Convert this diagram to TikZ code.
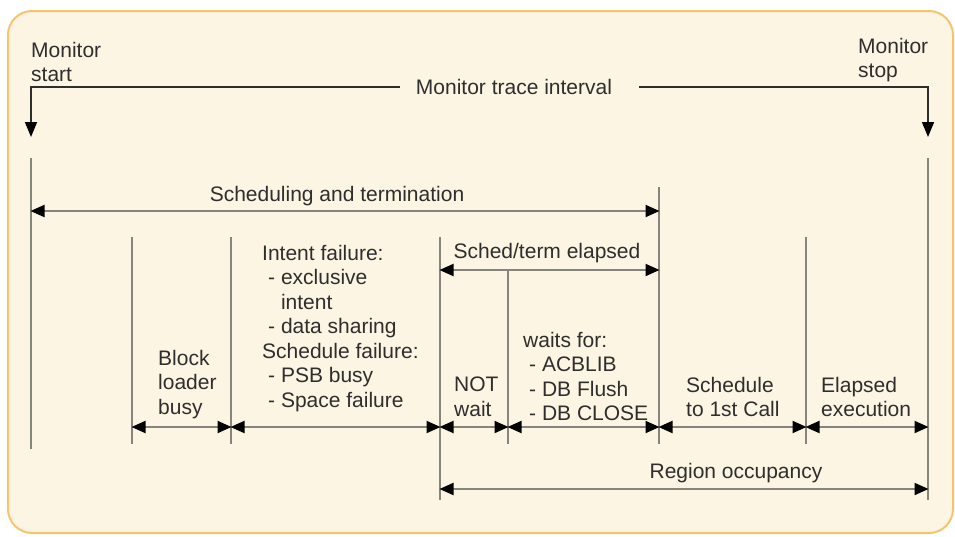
\documentclass[tikz,border=0pt]{standalone}
\usepackage{fontspec}
\setmainfont{Liberation Sans}
\usetikzlibrary{arrows.meta}
\definecolor{framefill}{HTML}{FDF5E3}
\definecolor{frameline}{HTML}{F6C46E}
\definecolor{markgray}{HTML}{85857E}
\definecolor{inkgray}{HTML}{2E2E2E}

\begin{document}
\begin{tikzpicture}[x=1pt, y=-1pt,
    timeline/.style={draw=markgray, line width=2pt},
    span/.style={{Triangle[length=14pt,width=12pt,color=black]}-{Triangle[length=14pt,width=12pt,color=black]},
      draw=markgray, line width=2pt, shorten <=-0.5pt, shorten >=-0.5pt},
    drop/.style={-{Triangle[length=15pt,width=12pt,color=black]}, draw=inkgray, line width=1.6pt},
    lbl/.style={inner sep=0pt, font=\fontsize{21}{24.5}\selectfont, align=left, anchor=north west, text=inkgray},
    title/.style={inner sep=0pt, font=\fontsize{21}{24.5}\selectfont, anchor=base, text=inkgray}
]
  % Frame
  \useasboundingbox (0,0) rectangle (955,536);
  \draw[fill=framefill, draw=frameline, line width=2pt, rounded corners=24pt] (8,11) rectangle (953,533);

  % Monitor trace interval
  \node[lbl] (mstart) at (31,42) {Monitor\\start};
  \node[lbl] (mstop) at (858,38) {Monitor\\stop};
  \node[title] (trace) at (514,94) {Monitor trace interval};
  \coordinate (tl) at (400,87);
  \coordinate (tr) at (639,87);
  \coordinate (sdown) at (31,137);
  \coordinate (edown) at (928,137);
  \draw[drop] (tl) -| (sdown);
  \draw[drop] (tr) -| (edown);

  % Time marks
  \coordinate (t0) at (31,158);   \coordinate (b0) at (31,449);
  \coordinate (t1) at (132,237);  \coordinate (b1) at (132,444);
  \coordinate (t2) at (231,237);  \coordinate (b2) at (231,444);
  \coordinate (t3) at (440,237);  \coordinate (b3) at (440,500);
  \coordinate (t4) at (508,270);  \coordinate (b4) at (508,444);
  \coordinate (t5) at (659,187);  \coordinate (b5) at (659,444);
  \coordinate (t6) at (806,237);  \coordinate (b6) at (806,444);
  \coordinate (t7) at (928,158);  \coordinate (b7) at (928,500);
  \foreach \i in {0,...,7}
    \draw[timeline] (t\i) -- (b\i);

  % Rows of the spans
  \coordinate (rowA) at (0,211);
  \coordinate (rowB) at (0,270);
  \coordinate (rowC) at (0,427);
  \coordinate (rowD) at (0,489);

  % Scheduling and termination
  \draw[span] (t0 |- rowA) -- (t5 |- rowA);
  \node[title] (schedterm) at (337,201) {Scheduling and termination};

  % Sched/term elapsed
  \draw[span] (t3 |- rowB) -- (t5 |- rowB);
  \node[title] (elapsed) at (547,258) {Sched/term elapsed};

  % Bottom spans
  \draw[span] (t1 |- rowC) -- (t2 |- rowC);
  \draw[span] (t2 |- rowC) -- (t3 |- rowC);
  \draw[span] (t3 |- rowC) -- (t4 |- rowC);
  \draw[span] (t4 |- rowC) -- (t5 |- rowC);
  \draw[span] (t5 |- rowC) -- (t6 |- rowC);
  \draw[span] (t6 |- rowC) -- (t7 |- rowC);

  % Region occupancy
  \draw[span] (t3 |- rowD) -- (t7 |- rowD);
  \node[title] (region) at (736,478) {Region occupancy};

  % Labels of the spans
  \node[lbl] (loader) at (158,350) {Block\\loader\\busy};
  \node[lbl] (intent) at (262,245) {Intent failure:\\
    \hspace*{6pt}- exclusive\\
    \hspace*{6pt}\phantom{- }intent\\
    \hspace*{6pt}- data sharing\\
    Schedule failure:\\
    \hspace*{6pt}- PSB busy\\
    \hspace*{6pt}- Space failure};
  \node[lbl] (notwait) at (454,377) {NOT\\wait};
  \node[lbl] (waits) at (523,332) {waits for:\\
    \hspace*{6pt}- ACBLIB\\
    \hspace*{6pt}- DB Flush\\
    \hspace*{6pt}- DB CLOSE};
  \node[lbl] (firstcall) at (686,377) {Schedule\\to 1st Call};
  \node[lbl] (execution) at (821,377) {Elapsed\\execution};

\end{tikzpicture}
\end{document}
